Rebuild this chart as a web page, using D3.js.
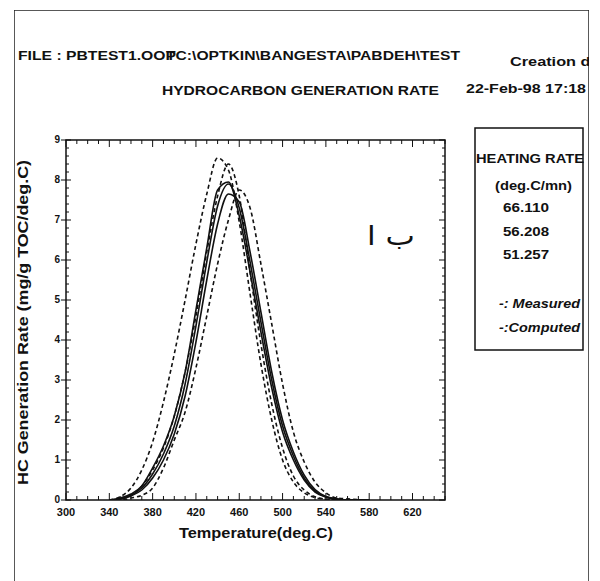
<!DOCTYPE html>
<html>
<head>
<meta charset="utf-8">
<script src="https://cdn.jsdelivr.net/npm/d3@7"></script>
<style>
  html, body { margin: 0; padding: 0; background: #fff; }
  svg { display: block; font-family: 'Liberation Sans', Arial, sans-serif; }
</style>
</head>
<body>
<div id="chart"></div>
<script>
// ── Data ─────────────────────────────────────────────────────────────────
const temps = [340, 350, 360, 370, 380, 390, 400, 410, 420, 430, 440, 450,
               460, 470, 480, 490, 500, 510, 520, 530, 540, 550, 560, 570, 580];

const measuredA = [0, 0.08, 0.3, 0.75, 1.45, 2.45, 3.65, 5.0, 6.4, 7.65, 8.55, 8.25,
                   6.95, 5.15, 3.4, 2.0, 1.0, 0.45, 0.18, 0.06, 0.02, 0, 0, 0, 0];
const measuredB = [0, 0.03, 0.12, 0.35, 0.75, 1.3, 2.1, 3.2, 4.6, 6.2, 7.6, 8.4,
                   7.6, 5.7, 3.9, 2.4, 1.3, 0.6, 0.25, 0.08, 0.02, 0, 0, 0, 0];
const measuredC = [0, 0, 0.05, 0.12, 0.3, 0.8, 1.5, 2.2, 3.3, 4.6, 5.9, 7.0,
                   7.75, 7.3, 5.9, 4.4, 2.9, 1.7, 0.95, 0.45, 0.18, 0.05, 0.03, 0.01, 0];
const computed1 = [0, 0.05, 0.15, 0.35, 0.8, 1.35, 2.1, 3.2, 4.75, 6.3, 7.75, 7.95,
                   7.1, 5.7, 4.2, 2.8, 1.7, 1.0, 0.5, 0.2, 0.07, 0.02, 0, 0, 0];
const computed2 = [0, 0.03, 0.12, 0.3, 0.65, 1.15, 1.85, 2.9, 4.35, 5.95, 7.35, 7.9,
                   7.3, 5.95, 4.45, 3.0, 1.85, 1.1, 0.55, 0.22, 0.08, 0.02, 0, 0, 0];
const computed3 = [0, 0.02, 0.1, 0.25, 0.55, 1.0, 1.65, 2.6, 3.95, 5.5, 6.9, 7.65,
                   7.45, 6.2, 4.7, 3.2, 2.0, 1.2, 0.62, 0.26, 0.09, 0.03, 0, 0, 0];

const measured = [measuredA, measuredB, measuredC];
const computed = [computed1, computed2, computed3];

const xTicks = [300, 340, 380, 420, 460, 500, 540, 580, 620];
const yTicks = [0, 1, 2, 3, 4, 5, 6, 7, 8, 9];
const heatingRates = ['66.110', '56.208', '51.257'];

// ── Layout ───────────────────────────────────────────────────────────────
const W = 600, H = 581;
const plot = { left: 66, right: 445, top: 140, bottom: 500 };

const svg = d3.select('#chart').append('svg')
  .attr('width', W).attr('height', H);

const defs = svg.append('defs');
defs.append('clipPath').attr('id', 'frame-clip')
  .append('rect').attr('x', 14).attr('y', 10).attr('width', 575).attr('height', 600);
defs.append('clipPath').attr('id', 'plot-clip')
  .append('rect').attr('x', plot.left).attr('y', plot.top)
  .attr('width', plot.right - plot.left).attr('height', plot.bottom - plot.top);

const g = svg.append('g').attr('clip-path', 'url(#frame-clip)');

// outer frame (bottom edge runs off the page)
g.append('rect')
  .attr('x', 14).attr('y', 10).attr('width', 575).attr('height', 600)
  .attr('fill', 'none').attr('stroke', '#222').attr('stroke-width', 1.5);

const x = d3.scaleLinear().domain([300, 650]).range([plot.left, plot.right]);
const y = d3.scaleLinear().domain([0, 9]).range([plot.bottom, plot.top]);

// bold text helper; optional stretch to a fixed width (the scan uses a wide face)
const label = (px, x0, y0, str, len) => {
  const t = g.append('text')
    .attr('x', x0).attr('y', y0)
    .attr('font-size', px + 'px').attr('font-weight', 'bold').attr('fill', '#111')
    .text(str);
  if (len) t.attr('textLength', len).attr('lengthAdjust', 'spacingAndGlyphs');
  return t;
};

// ── Header texts ─────────────────────────────────────────────────────────
label(13, 18, 60, 'FILE : PBTEST1.OOP', 158);
label(13, 166, 60, 'TC:\\OPTKIN\\BANGESTA\\PABDEH\\TEST', 294);
label(13, 510, 66, 'Creation date', 104);
label(13, 466, 93, '22-Feb-98  17:18', 120);
label(13.5, 162, 95, 'HYDROCARBON GENERATION RATE', 277);

// ── Axes ─────────────────────────────────────────────────────────────────
const axisG = g.append('g').attr('stroke', '#111').attr('stroke-width', 1.5);
axisG.append('rect')
  .attr('x', plot.left).attr('y', plot.top)
  .attr('width', plot.right - plot.left).attr('height', plot.bottom - plot.top)
  .attr('fill', 'none');

const xMinor = d3.range(300, 651, 10);
const yMinor = d3.range(0, 9.01, 0.2);

// bottom + top ticks, pointing inward
xMinor.forEach(v => {
  const major = (v - 300) % 40 === 0;
  const len = major ? 7 : 4;
  axisG.append('line').attr('x1', x(v)).attr('x2', x(v))
    .attr('y1', plot.bottom).attr('y2', plot.bottom - len).attr('stroke-width', 1);
  axisG.append('line').attr('x1', x(v)).attr('x2', x(v))
    .attr('y1', plot.top).attr('y2', plot.top + len).attr('stroke-width', 1);
});

// left ticks: majors outward, minors inward; right ticks inward
yMinor.forEach(v => {
  const major = Math.abs(v - Math.round(v)) < 1e-6;
  axisG.append('line')
    .attr('x1', major ? plot.left - 5 : plot.left).attr('x2', plot.left + (major ? 5 : 3))
    .attr('y1', y(v)).attr('y2', y(v)).attr('stroke-width', 1);
  axisG.append('line')
    .attr('x1', plot.right).attr('x2', plot.right - (major ? 6 : 3))
    .attr('y1', y(v)).attr('y2', y(v)).attr('stroke-width', 1);
});

g.selectAll('text.xtick').data(xTicks).enter().append('text')
  .attr('class', 'xtick')
  .attr('x', d => x(d)).attr('y', 516)
  .attr('text-anchor', 'middle').attr('font-size', '11px')
  .attr('font-weight', 'bold').attr('fill', '#111')
  .text(d => d);

g.selectAll('text.ytick').data(yTicks).enter().append('text')
  .attr('class', 'ytick')
  .attr('x', plot.left - 6).attr('y', d => y(d) + 2.5)
  .attr('text-anchor', 'end').attr('font-size', '10px')
  .attr('font-weight', 'bold').attr('fill', '#111')
  .text(d => d);

label(15, 256 - 77, 538, 'Temperature(deg.C)', 154);

label(14, 0, 0, 'HC Generation Rate (mg/g TOC/deg.C)', 325)
  .attr('transform', 'translate(28,485) rotate(-90)');

// ── Curves ───────────────────────────────────────────────────────────────
const line = d3.line()
  .x((_, i) => x(temps[i]))
  .y(d => y(d))
  .curve(d3.curveMonotoneX);

const curves = g.append('g').attr('clip-path', 'url(#plot-clip)')
  .attr('fill', 'none').attr('stroke', '#111');

curves.selectAll('path.measured').data(measured).enter().append('path')
  .attr('class', 'measured')
  .attr('d', line)
  .attr('stroke-width', 1.6)
  .attr('stroke-dasharray', '4 3');

curves.selectAll('path.computed').data(computed).enter().append('path')
  .attr('class', 'computed')
  .attr('d', line)
  .attr('stroke-width', 1.6);

// arabic note inside the plot
g.append('text')
  .attr('x', 367).attr('y', 245)
  .attr('font-size', '26px')
  .attr('textLength', 48).attr('lengthAdjust', 'spacingAndGlyphs')
  .attr('font-family', "'DejaVu Sans', sans-serif").attr('fill', '#111')
  .text('ب ا');

// ── Legend box ───────────────────────────────────────────────────────────
g.append('rect')
  .attr('x', 475).attr('y', 128).attr('width', 108).attr('height', 222)
  .attr('fill', 'none').attr('stroke', '#111').attr('stroke-width', 1.5);

label(13, 476, 163, 'HEATING RATE', 108);
label(13, 495, 190, '(deg.C/mn)', 77);

heatingRates.forEach((r, i) => label(13, 503, 212 + i * 23.5, r, 46));

label(13, 499, 308, '-: Measured', 81).attr('font-style', 'italic');
label(13, 499, 332, '-:Computed', 81).attr('font-style', 'italic');
</script>
</body>
</html>
